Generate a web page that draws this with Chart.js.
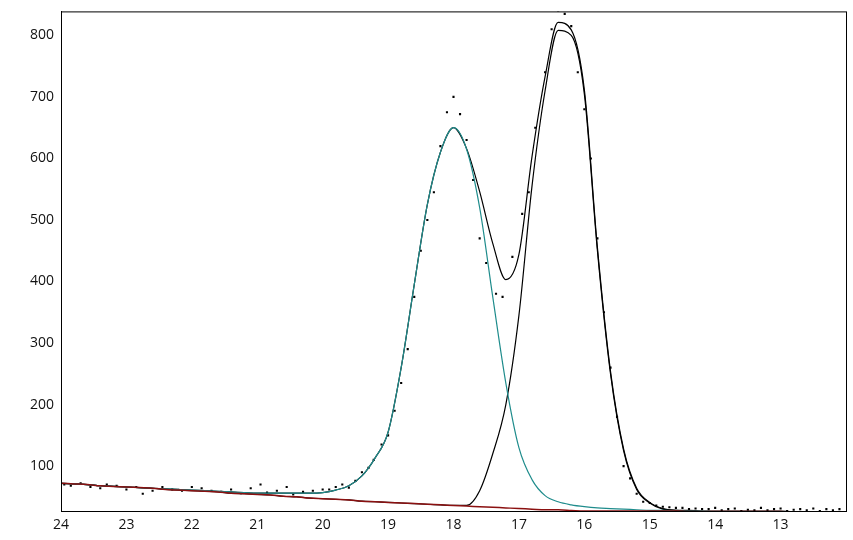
<!DOCTYPE html>
<html><head><meta charset="utf-8">
<script src="https://cdn.jsdelivr.net/npm/chart.js@4/dist/chart.umd.min.js"></script>
<style>html,body{margin:0;padding:0;background:#fff}#w{width:853px;height:540px}</style>
</head><body><div id="w"><canvas id="c"></canvas></div>
<script>
const xGrid = [24,23.8,23.6,23.4,23.2,23,22.8,22.6,22.4,22.2,22,21.8,21.6,21.4,21.2,21,20.8,20.6,20.4,20.2,20,19.8,19.6,19.4,19.2,19,18.8,18.6,18.4,18.2,18,17.8,17.6,17.4,17.2,17,16.8,16.6,16.4,16.2,16,15.8,15.6,15.4,15.2,15,14.8,14.6,14.4,14.2,14,13.8,13.6,13.4,13.2,13,12.8,12.6,12.4,12.2,12];
const baseline = [72,71,70,68,67,66,65,64,62,61,60,59,58,56,55,54,53,51,50,48,47,46,45,43,42,41,40,39,38,37,36,35,34,33,32,31,30,29,29,28,27,27,27,27,27,27,27,27,26,26,26,26,26,26,26,26,25,25,25,25,25];
const peak1 = [72,71,70,68,67,66,65,64,63,62,61,60,59,58,57,56,56,56,56,56,57,61,68,84,113,155,260,395,525,610,650,615,520,375,235,130,78,52,42,37,34,32,31,30,29,28,28,27,27,27,26,26,26,26,26,26,25,25,25,25,25];
const peak2 = [72,71,70,68,67,66,65,64,62,61,60,59,58,56,55,54,53,51,50,48,47,46,45,43,42,41,40,39,38,37,36,36,60,120,200,345,555,710,808,800,705,450,250,125,62,40,30,28,27,26,26,26,26,26,26,26,25,25,25,25,25];
const fitSum = [72,71,70,68,67,66,65,64,63,62,61,60,59,58,57,56,56,56,56,56,57,61,68,84,113,155,260,395,525,610,650,616,546,462,403,444,603,733,821,809,712,455,254,128,64,41,31,28,28,27,27,27,27,27,27,27,26,26,26,26,26];
const obsX = [23.95,23.85,23.7,23.55,23.4,23.3,23.15,23.0,22.85,22.75,22.6,22.45,22.3,22.15,22.0,21.85,21.7,21.55,21.4,21.25,21.1,20.95,20.85,20.7,20.55,20.45,20.3,20.15,20.0,19.9,19.8,19.7,19.6,19.5,19.4,19.3,19.22,19.1,19.0,18.9,18.8,18.7,18.6,18.5,18.4,18.3,18.2,18.1,18.0,17.9,17.8,17.7,17.6,17.5,17.35,17.25,17.1,16.95,16.85,16.75,16.6,16.5,16.4,16.3,16.2,16.1,16.0,15.9,15.8,15.7,15.6,15.5,15.4,15.3,15.2,15.1,15.0,14.9,14.8,14.7,14.6,14.5,14.4,14.3,14.2,14.1,14.0,13.9,13.8,13.7,13.6,13.5,13.4,13.3,13.2,13.1,13.0,12.9,12.8,12.7,12.6,12.5,12.4,12.3,12.2,12.1];
const obsY = [70,68,72,66,64,70,68,62,66,55,60,66,62,60,66,64,60,58,62,56,64,70,57,60,66,54,58,60,62,62,66,70,65,76,90,97,110,135,150,190,235,290,375,450,500,545,620,675,700,672,630,565,470,430,380,375,440,510,545,650,740,810,840,835,815,740,680,600,470,350,260,180,100,80,55,42,40,36,34,33,32,32,30,31,30,30,32,28,30,31,27,29,28,32,28,30,31,27,29,30,28,31,27,30,28,30];
const xTicks = [24,23,22,21,20,19,18,17,16,15,14,13];
const yTicks = [100,200,300,400,500,600,700,800];

const pts = (xs, ys) => xs.map((x, i) => ({x: x, y: ys[i]}));
const line = (data, color, w) => ({type:'line', data, borderColor:color, borderWidth:w, pointRadius:0, fill:false, cubicInterpolationMode:'monotone'});
const frame = {id:'frame', afterDraw(ch){const a=ch.chartArea,c=ch.ctx;c.save();c.strokeStyle='#000';c.lineWidth=1;c.strokeRect(a.left+0.5,a.top+0.5,a.right-a.left,a.bottom-a.top);c.restore();}};

new Chart(document.getElementById('c'), {
  data: {datasets: [
    line(pts(xGrid, baseline), '#8b1010', 1.5),
    line(pts(xGrid, peak1), '#1f8c8c', 1.2),
    line(pts(xGrid, peak2), '#000', 1.2),
    line(pts(xGrid, fitSum), '#000', 1.2),
    {type:'scatter', data: pts(obsX, obsY), backgroundColor:'#000', pointStyle:'rect', pointRadius:1.5, borderWidth:0}
  ]},
  plugins:[frame],
  options: {
    responsive:true, maintainAspectRatio:false, animation:false,
    layout:{padding:{top:10,right:7,left:0,bottom:0}},
    plugins:{legend:{display:false}, tooltip:{enabled:false}},
    scales:{
      x:{type:'linear', reverse:true, min:12, max:24,
        afterBuildTicks(s){s.ticks = xTicks.map(v=>({value:v}));},
        afterFit(s){s.height=29;},
        grid:{display:false, drawTicks:true, tickLength:4, color:'#000'},
        border:{color:'#000'},
        ticks:{color:'#111', font:{family:'Open Sans', size:14}, padding:2, maxRotation:0}},
      y:{type:'linear', min:27, max:839,
        afterBuildTicks(s){s.ticks = yTicks.map(v=>({value:v}));},
        afterFit(s){s.width=61;},
        grid:{display:false, drawTicks:true, tickLength:4, color:'#000'},
        border:{color:'#000'},
        ticks:{color:'#111', font:{family:'Open Sans', size:14}, padding:3}}
    }
  }
});
</script></body></html>
